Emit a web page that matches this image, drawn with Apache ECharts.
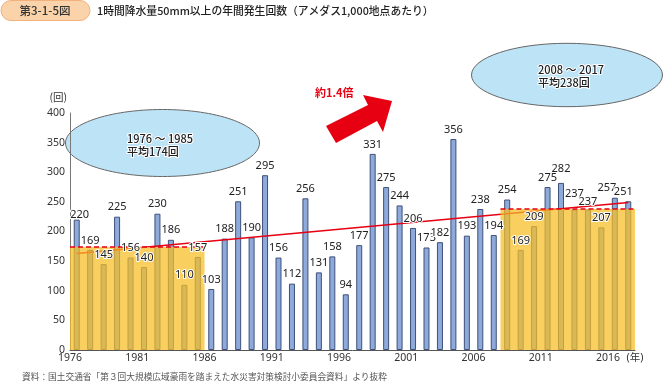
<!DOCTYPE html>
<html><head><meta charset="utf-8">
<script src="https://cdn.jsdelivr.net/npm/echarts@6/dist/echarts.min.js"></script>
<style>html,body{margin:0;padding:0;background:#fff}#c{width:665px;height:382px}</style>
</head><body><div id="c"></div>
<script>
const years = ['1976','1977','1978','1979','1980','1981','1982','1983','1984','1985',
  '1986','1987','1988','1989','1990','1991','1992','1993','1994','1995',
  '1996','1997','1998','1999','2000','2001','2002','2003','2004','2005',
  '2006','2007','2008','2009','2010','2011','2012','2013','2014','2015','2016','2017'];
const counts = [220,169,145,225,156,140,230,186,110,157,
  103,188,251,190,295,156,112,256,131,158,
  94,177,331,275,244,206,173,182,356,193,
  238,194,254,169,209,275,282,237,237,207,257,251];
const tickLabels = ['1976','1981','1986','1991','1996','2001','2006','2011','2016'];
const unitLabelX = '(年)';
const unitLabelY = '(回)';
const periodStart = ['1976','2008'];
const periodEnd = ['1985','2017'];
const periodAvg = [174, 238];
const periodText = ['1976 ～ 1985\n平均174回', '2008 ～ 2017\n平均238回'];
const trendYears = ['1976','2017'];
const trendValues = [163, 249];
const ratioText = '約1.4倍';
const titleTag = '第3-1-5図';
const titleText = '1時間降水量50mm以上の年間発生回数（アメダス1,000地点あたり）';
const sourceText = '資料：国土交通省「第３回大規模広域豪雨を踏まえた水災害対策検討小委員会資料」より抜粋';

// label nudges (layout only)
const labelNudge = {'1976':[3,5], '2012':[0,-5], '2013':[0,-6], '2014':[0,2], '2016':[-8,0], '2017':[-5,0]};

const FONT = '"Noto Sans", "Noto Sans CJK JP", sans-serif';
const JFONT = '"Noto Sans CJK JP", sans-serif';

const periodData = periodStart.map((s, i) => [years.indexOf(s), years.indexOf(periodEnd[i]) + 1, periodAvg[i]]);

const chart = echarts.init(document.getElementById('c'));
chart.setOption({
  animation: false,
  grid: {left: 70, right: 30, top: 113, bottom: 32, containLabel: false},
  xAxis: [
    {type: 'category', data: years, boundaryGap: true,
     axisLine: {show: true, lineStyle: {color: '#555', width: 1}},
     axisTick: {show: false}, axisLabel: {show: false}, splitLine: {show: false}},
    {type: 'value', min: 0, max: years.length, interval: 5, position: 'bottom',
     axisLine: {show: false}, axisTick: {show: false}, splitLine: {show: false},
     axisLabel: {show: true, margin: 3, color: '#333', fontSize: 10.5, fontFamily: FONT,
       showMinLabel: true, showMaxLabel: true,
       formatter: v => (v % 5 === 0 && tickLabels[v / 5] !== undefined) ? tickLabels[v / 5] : (v === years.length ? unitLabelX : '')}}
  ],
  yAxis: [{type: 'value', min: 0, max: 400, interval: 50,
    name: unitLabelY, nameLocation: 'end', nameGap: 11,
    nameTextStyle: {color: '#333', fontSize: 10.5, fontFamily: JFONT, align: 'right', padding: [0, 3, 0, 0]},
    axisLine: {show: true, lineStyle: {color: '#777', width: 1}},
    axisTick: {show: false}, splitLine: {show: false},
    axisLabel: {color: '#333', fontSize: 10.5, fontFamily: FONT, margin: 5}}],
  series: [
    {type: 'bar', name: 'counts', xAxisIndex: 0, data: counts, barWidth: 6, z: 2,
     itemStyle: {color: '#8eaadb', borderColor: '#3f5079', borderWidth: 1}},
    {type: 'line', name: 'trend', xAxisIndex: 0,
     data: trendYears.map((y, i) => [y, trendValues[i]]),
     symbol: 'none', z: 3, lineStyle: {color: '#e60012', width: 1.5}},
    {type: 'custom', name: 'periods', xAxisIndex: 1, yAxisIndex: 0, data: periodData, z: 4,
     renderItem: (params, api) => {
       const p0 = api.coord([api.value(0), api.value(2)]);
       const p1 = api.coord([api.value(1), 0]);
       return {type: 'group', children: [
         {type: 'rect', shape: {x: p0[0], y: p0[1], width: p1[0] - p0[0], height: p1[1] - p0[1]},
          style: {fill: 'rgba(247,190,35,0.72)'}},
         {type: 'line', shape: {x1: p0[0], y1: p0[1], x2: p1[0], y2: p0[1]},
          style: {stroke: '#e60012', lineWidth: 1.5, lineDash: [5, 3]}, z2: 5}
       ]};
     }},
    {type: 'bar', name: 'labels', xAxisIndex: 0, barWidth: 6, barGap: '-100%', z: 10,
     itemStyle: {color: 'rgba(0,0,0,0)'},
     data: counts.map((v, i) => labelNudge[years[i]] ? {value: v, label: {offset: labelNudge[years[i]]}} : v),
     label: {show: true, position: 'top', distance: 4, color: '#222', fontSize: 11, fontFamily: FONT,
       textBorderColor: '#fff', textBorderWidth: 2}}
  ],
  graphic: [
    {type: 'rect', shape: {x: 1, y: 0.5, width: 89, height: 20, r: 10},
     style: {fill: '#fad3ab', stroke: '#f1b07c', lineWidth: 1}},
    {type: 'text', x: 45, y: 11, style: {text: titleTag, font: '500 11.5px ' + JFONT, fill: '#333', align: 'center', verticalAlign: 'middle'}},
    {type: 'text', x: 97, y: 11, style: {text: titleText, font: '500 10.8px ' + JFONT, fill: '#222', verticalAlign: 'middle'}},
    {type: 'ellipse', shape: {cx: 162.5, cy: 143, rx: 97, ry: 33.5},
     style: {fill: '#bde3f7', stroke: '#666', lineWidth: 1}},
    {type: 'text', x: 127, y: 133, style: {text: periodText[0], font: '500 11px ' + JFONT, lineHeight: 12.5, fill: '#222', verticalAlign: 'top', stroke: '#fff', lineWidth: 2}},
    {type: 'ellipse', shape: {cx: 567, cy: 75, rx: 95.5, ry: 31.7},
     style: {fill: '#bde3f7', stroke: '#666', lineWidth: 1}},
    {type: 'text', x: 538, y: 64, style: {text: periodText[1], font: '500 11px ' + JFONT, lineHeight: 12.5, fill: '#222', verticalAlign: 'top', stroke: '#fff', lineWidth: 2}},
    {type: 'polygon', shape: {points: [[326,126],[368,105],[363,95],[392,101],[383,132],[377,121],[336,143]]},
     style: {fill: '#e60012'}},
    {type: 'text', x: 315, y: 93, style: {text: ratioText, font: 'bold 11px ' + JFONT, fill: '#e60012', verticalAlign: 'middle'}},
    {type: 'text', x: 22, y: 377, style: {text: sourceText, font: '8.7px ' + JFONT, fill: '#555', verticalAlign: 'middle'}}
  ]
});
</script></body></html>
